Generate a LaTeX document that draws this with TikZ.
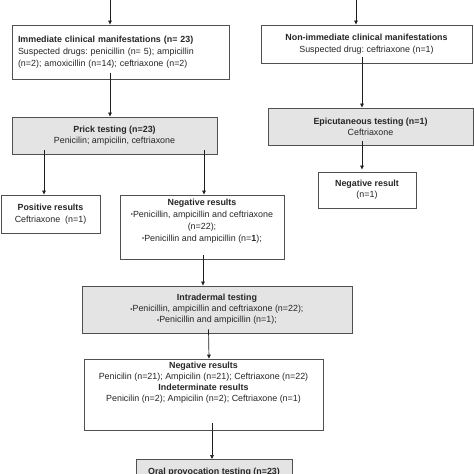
\documentclass[tikz,border=0pt]{standalone}
\usepackage{fontspec}
\setmainfont{Liberation Sans}
\usetikzlibrary{arrows.meta}
\definecolor{boxline}{HTML}{505050}
\definecolor{boxfill}{HTML}{E4E4E4}
\definecolor{arrline}{HTML}{1E1E1E}
\newcommand{\smbul}{{\fontsize{6}{6}\selectfont\raisebox{0.3pt}{•}}}
\tikzset{
  plainbox/.style={draw=boxline, line width=0.9pt, fill=white, inner sep=0pt, align=center,
    font=\fontsize{8.9}{11}\selectfont, text=black!85},
  graybox/.style={plainbox, fill=boxfill},
  arr/.style={draw=arrline, line width=0.7pt, -{Triangle[length=4pt,width=3.6pt]}},
}
\begin{document}
\begin{tikzpicture}[x=1pt,y=-1pt]
\useasboundingbox (0,0) rectangle (474,474);

\node[plainbox, minimum width=217pt, minimum height=54pt, align=left, text width=205pt] (imm) at (120.5,52)
  {\textbf{Immediate clinical manifestations (n= 23)}\\[1pt]
   Suspected drugs:\ penicillin (n= 5); ampicillin\\[1pt]
   (n=2);\ amoxicillin (n=14);\ ceftriaxone (n=2)};

\node[plainbox, minimum width=211pt, minimum height=38pt] (nonimm) at (366.5,44)
  {\textbf{Non-immediate clinical manifestations}\\[1pt] Suspected drug:\ ceftriaxone (n=1)};

\node[graybox, minimum width=205pt, minimum height=37pt] (prick) at (114.5,135.5)
  {\textbf{Prick testing (n=23)}\\ Penicilin; ampicilin, ceftriaxone};

\node[graybox, minimum width=205pt, minimum height=37pt] (epi) at (370.5,126.5)
  {\textbf{Epicutaneous\ testing (n=1)}\\ Ceftriaxone};

\node[plainbox, minimum width=98pt, minimum height=36pt] (negone) at (367,190)
  {\textbf{Negative result}\\ (n=1)};

\node[plainbox, minimum width=99pt, minimum height=38pt] (pos) at (50.5,214)
  {\textbf{Positive results}\\[1pt] Ceftriaxone\ \ (n=1)};

\node[plainbox, minimum width=164pt, minimum height=64pt] (neg) at (202,227)
  {\textbf{Negative results}\\[1pt] \smbul Penicillin,\ ampicillin and ceftriaxone\\[1pt] (n=22);\\[1pt]
   \smbul Penicillin and ampicillin (n=\textbf{1});\\[3pt]};

\node[graybox, minimum width=270pt, minimum height=47pt] (intra) at (217,309.5)
  {\textbf{Intradermal testing}\\ \smbul Penicillin,\ ampicillin and ceftriaxone (n=22);\\
   \smbul Penicillin and ampicillin (n=1);};

\node[plainbox, minimum width=239pt, minimum height=71pt] (negind) at (203.5,394.5)
  {\textbf{Negative results}\\ Penicilin (n=21);\ Ampicilin (n=21);\ Ceftriaxone\ (n=22)\\
   \textbf{Indeterminate results}\\ Penicilin (n=2);\ Ampicilin (n=2);\ Ceftriaxone\ (n=1)\\[14pt]};

\node[graybox, minimum width=156pt, minimum height=44pt, anchor=north] (oral) at (214,459)
  {\textbf{Oral provocation\ testing\ (n=23)}\\[9pt]};

\coordinate (topA) at (110,0);
\coordinate (topB) at (356,0);

\draw[arr] (topA) -- (topA |- imm.north);
\draw[arr] (topB) -- (topB |- nonimm.north);
\draw[arr] ([yshift=6pt]imm.south -| topA) -- (prick.north -| topA);
\draw[arr] ([xshift=-4.5pt,yshift=6pt]nonimm.south) -- ([xshift=-8.5pt]epi.north);
\draw[arr] ([xshift=-8.5pt,yshift=4pt]epi.south) -- ([xshift=-5pt,yshift=2pt]negone.north);
\draw[arr] ([xshift=-70.5pt,yshift=4pt]prick.south) -- ([xshift=-6.5pt]pos.north);
\draw[arr] ([xshift=89.5pt,yshift=4pt]prick.south) -- ([xshift=2pt]neg.north);
\draw[arr] ([xshift=1pt,yshift=4pt]neg.south) -- ([xshift=-14pt]intra.north);
\draw[arr] ([xshift=-8.5pt,yshift=4pt]intra.south) -- ([xshift=5.5pt]negind.north);
\draw[arr] ([xshift=8.5pt,yshift=7pt]negind.south) -- ([xshift=-2pt]oral.north);
\end{tikzpicture}
\end{document}
